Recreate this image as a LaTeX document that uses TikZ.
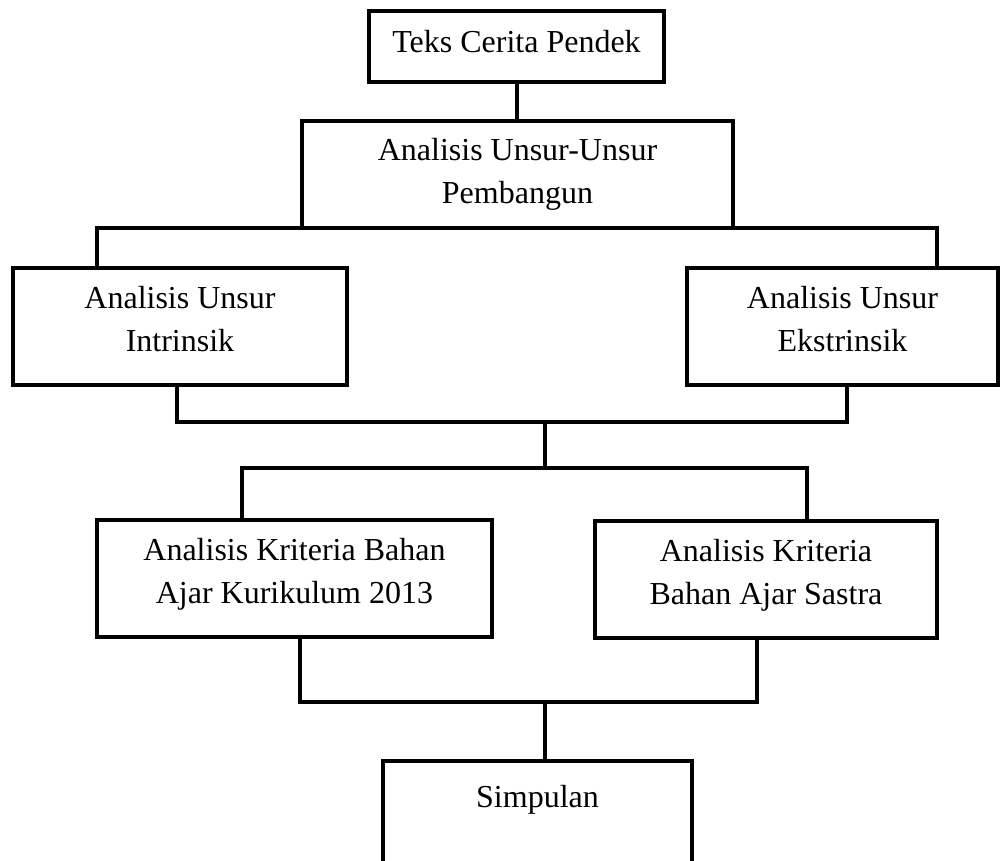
\documentclass[tikz,border=0pt]{standalone}
\usepackage{fontspec}
\setmainfont{Liberation Serif}
\tikzset{
  boxnode/.style={draw=black, line width=4pt, inner sep=0pt, outer sep=0pt, font=\fontsize{32}{43}\selectfont},
  conn/.style={draw=black, line width=4pt}
}
\newcommand{\boxtext}[4]{\parbox[c][#2pt][t]{#1pt}{\centering\rule{0pt}{#3pt}#4}}
\begin{document}
\begin{tikzpicture}[x=1pt,y=-1pt]
\useasboundingbox (0,0) rectangle (1001,860);
\clip (0,0) rectangle (1001,860);
\fill[white] (0,0) rectangle (1001,860);

\node[boxnode] (b1) at (516.5,46.5) {\boxtext{295}{71}{41}{Teks Cerita Pendek}};
\node[boxnode] (b2) at (517.5,174.5) {\boxtext{431}{107}{39}{Analisis Unsur-Unsur\\Pembangun}};
\node[boxnode] (b3) at (180,326.5) {\boxtext{334}{117}{40}{Analisis Unsur\\Intrinsik}};
\node[boxnode] (b4) at (842.5,326.5) {\boxtext{311}{117}{40}{Analisis Unsur\\Ekstrinsik}};
\node[boxnode] (b5) at (294.5,578.5) {\boxtext{395}{117}{40}{Analisis Kriteria Bahan\\Ajar Kurikulum 2013}};
\node[boxnode] (b6) at (766,579.5) {\boxtext{342}{117}{40}{Analisis Kriteria\\Bahan Ajar Sastra}};
\node[boxnode] (b7) at (537.5,830.5) {\boxtext{309}{139}{46}{Simpulan}};

\coordinate (j1) at (545,422);
\coordinate (j2) at (545,468);
\coordinate (j3) at (545,702);

\draw[conn] (b1.south) -- (b1.south |- b2.north);
\draw[conn] ([xshift=-83pt]b3.north) |- (b2.south) -| ([xshift=94.5pt]b4.north);
\draw[conn] ([xshift=-3pt]b3.south) |- (j1) -| ([xshift=4.5pt]b4.south);
\draw[conn] (j1) -- (j2);
\draw[conn] ([xshift=-52.5pt]b5.north) |- (j2) -| ([xshift=41pt]b6.north);
\draw[conn] ([xshift=5.5pt]b5.south) |- (j3) -| ([xshift=-9pt]b6.south);
\draw[conn] (j3) -- (j3 |- b7.north);
\end{tikzpicture}
\end{document}
